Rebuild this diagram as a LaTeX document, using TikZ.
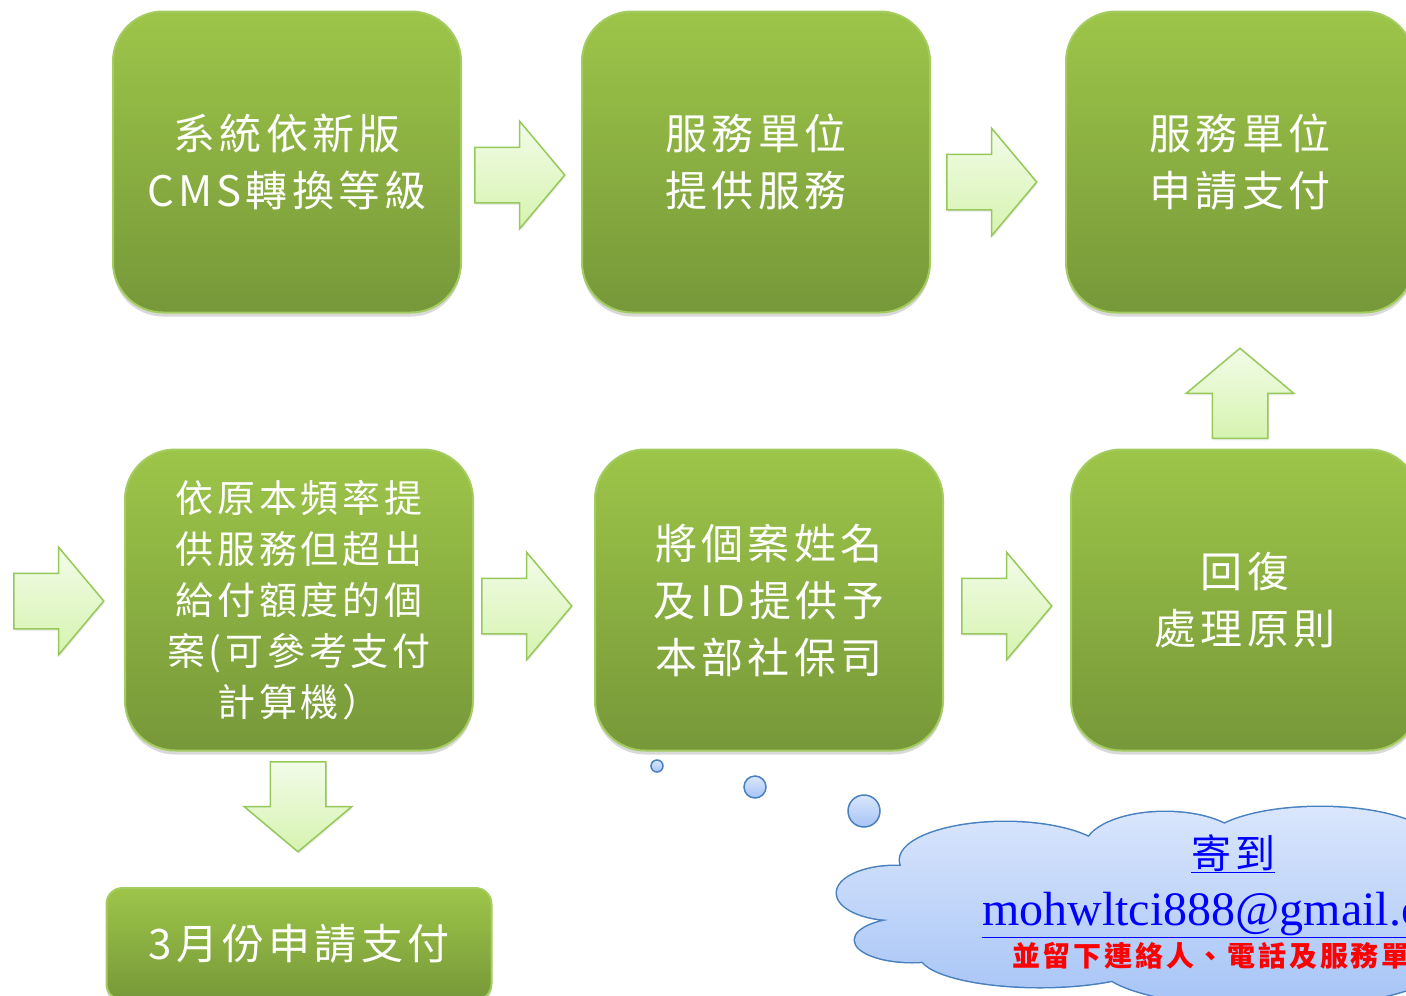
\documentclass[tikz,border=0pt]{standalone}
\usepackage{fontspec}
\setmainfont{Liberation Serif}
\newfontfamily\cjk[LetterSpace=10]{Noto Sans CJK TC}
\usetikzlibrary{shapes.arrows,shadows}
\definecolor{boxtop}{RGB}{157,197,73}
\definecolor{boxbot}{RGB}{119,152,57}
\definecolor{boxline}{RGB}{164,204,96}
\definecolor{arrlight}{RGB}{242,252,232}
\definecolor{arrdark}{RGB}{214,243,176}
\definecolor{arrline}{RGB}{150,200,90}
\definecolor{cloudtop}{RGB}{218,230,252}
\definecolor{cloudbot}{RGB}{166,196,246}
\definecolor{cloudline}{RGB}{72,128,192}
\newcommand\cloudlobes{(895,893) ellipse [x radius=58,y radius=27]
 (912,940) ellipse [x radius=57,y radius=22]
 (1005,860) ellipse [x radius=105,y radius=38]
 (1165,848) ellipse [x radius=80,y radius=36]
 (1320,845) ellipse [x radius=115,y radius=38]
 (1040,955) ellipse [x radius=120,y radius=32]
 (1270,965) ellipse [x radius=170,y radius=42]
 (1150,905) ellipse [x radius=240,y radius=60]
 (1420,900) ellipse [x radius=60,y radius=70]}
\begin{document}
\begin{tikzpicture}[x=1pt,y=-1pt,
	box/.style={rounded corners=50pt,draw=boxline,line width=2pt,
		top color=boxtop,bottom color=boxbot,
		minimum width=348pt,minimum height=301pt,align=center,text=white,
		font=\cjk\fontsize{42}{57}\selectfont,
		drop shadow={opacity=0.3,shadow xshift=0pt,shadow yshift=-4pt}},
	bigarrow/.style={single arrow,anchor=tail,draw=arrline,line width=1.5pt,
		top color=arrlight,bottom color=arrdark,inner xsep=0pt,inner ysep=27pt,
		single arrow head extend=26pt,single arrow tip angle=100,
		minimum height=90pt,
		drop shadow={opacity=0.15,shadow xshift=1pt,shadow yshift=-2pt}},
	bubble/.style={draw=cloudline,line width=1.5pt,top color=cloudtop,bottom color=cloudbot}]
	\useasboundingbox (0,0) rectangle (1406,996);
	\clip (0,0) rectangle (1406,996);
	\node[box] (convert) at (287,162) {系統依新版\\CMS轉換等級};
	\node[box] (serve) at (756,162) {服務單位\\提供服務};
	\node[box] (apply) at (1240,162) {服務單位\\申請支付};
	\node[box,font=\cjk\fontsize{38}{51}\selectfont] (over) at (299,600)
		{依原本頻率提\\供服務但超出\\給付額度的個\\案(可參考支付\\計算機）};
	\node[box] (report) at (769,600) {將個案姓名\\及ID提供予\\本部社保司};
	\node[box] (reply) at (1245,600) {回復\\處理原則};
	\node[box,rounded corners=16pt,minimum width=385pt,minimum height=112pt] (march) at (299,944) {3月份申請支付};
	\node[bigarrow] (a1) at (474,175) {};
	\node[bigarrow] (a2) at (946,182) {};
	\node[bigarrow,rotate=90] (a3) at (1240,439) {};
	\node[bigarrow] (a4) at (13,601) {};
	\node[bigarrow] (a5) at (481,606) {};
	\node[bigarrow] (a6) at (961,606) {};
	\node[bigarrow,rotate=-90] (a7) at (298,761) {};
	\foreach \cx/\cy/\r in {657/766/6,755/787/11,864/811/16}
	\draw[bubble] (\cx,\cy) circle[radius=\r];
	\path[draw=cloudline,line width=3pt] \cloudlobes;
	\shade[top color=cloudtop,bottom color=cloudbot] \cloudlobes;
	\node[anchor=base,text=blue,font=\cjk\fontsize{40}{40}\selectfont] (sendto) at (1233,868) {\underline{寄到}};
	\node[anchor=base west,inner sep=0pt,text=blue,font=\fontsize{48}{48}\selectfont] (mail) at (982,925) {\underline{mohwltci888@gmail.com}};
	\node[anchor=base west,inner sep=0pt,text=red,font=\cjk\bfseries\fontsize{28}{28}\selectfont] (note) at (1012,966) {並留下連絡人、電話及服務單位};
\end{tikzpicture}
\end{document}
